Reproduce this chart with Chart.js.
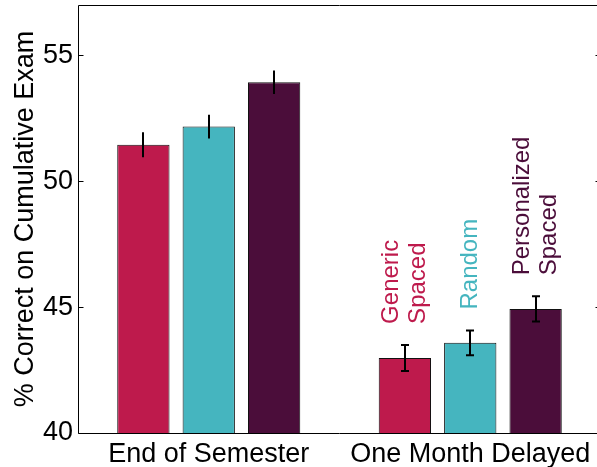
<!DOCTYPE html>
<html>
<head>
<meta charset="utf-8">
<script src="https://cdn.jsdelivr.net/npm/chart.js@4"></script>
<style>
html,body{margin:0;padding:0;overflow:hidden;background:#fff;}
#wrap{width:601px;height:467px;}
</style>
</head>
<body>
<div id="wrap"><canvas id="c" width="601" height="467"></canvas></div>
<script>
const categories = ["End of Semester", "One Month Delayed"];
const seriesNames = ["Generic Spaced", "Random", "Personalized Spaced"];
const genericSpaced = [51.45, 42.98];
const randomOrder = [52.17, 43.58];
const personalizedSpaced = [53.93, 44.93];
const genericErr = [0.50, 0.52];
const randomErr = [0.47, 0.49];
const personalizedErr = [0.47, 0.50];
const yTicks = [40, 45, 50, 55];
const yMin = 40, yMax = 57;
const annotLines = [["Generic", "Spaced"], ["Random"], ["Personalized", "Spaced"]];

const colors = ["#BE1A4C", "#45B5BF", "#4B0D3A"];
const errs = [genericErr, randomErr, personalizedErr];
const FONT = "'Liberation Sans', Arial, Helvetica, sans-serif";

const overlay = {
  id: 'overlay',
  afterDatasetsDraw(chart) {
    const ctx = chart.ctx;
    const y = chart.scales.y;
    const ca = chart.chartArea;
    ctx.save();
    // error bars
    ctx.strokeStyle = '#000';
    ctx.lineWidth = 2;
    chart.data.datasets.forEach((ds, di) => {
      const meta = chart.getDatasetMeta(di);
      meta.data.forEach((bar, i) => {
        const v = ds.data[i], e = errs[di][i];
        const x = Math.round(bar.x);
        const yt = y.getPixelForValue(v + e), yb = y.getPixelForValue(v - e);
        ctx.beginPath();
        ctx.moveTo(x, yt); ctx.lineTo(x, yb);
        const cw = i === 0 ? 0 : 4;
        if (cw > 0) {
          ctx.moveTo(x - cw, yt); ctx.lineTo(x + cw, yt);
          ctx.moveTo(x - cw, yb); ctx.lineTo(x + cw, yb);
        }
        ctx.stroke();
      });
    });
    // rotated series labels above second group
    ctx.font = "24px " + FONT;
    ctx.textAlign = 'left';
    ctx.textBaseline = 'middle';
    chart.data.datasets.forEach((ds, di) => {
      const bar = chart.getDatasetMeta(di).data[1];
      const v = ds.data[1], e = errs[di][1];
      const anchorY = y.getPixelForValue(v + e) - 21;
      const lines = annotLines[di];
      const lh = 26.5;
      ctx.fillStyle = colors[di];
      lines.forEach((t, li) => {
        const off = (li - (lines.length - 1) / 2) * lh;
        ctx.save();
        ctx.translate(bar.x + off, anchorY);
        ctx.rotate(-Math.PI / 2);
        ctx.fillText(t, 0, 0);
        ctx.restore();
      });
    });
    // frame: spines, inward ticks
    ctx.strokeStyle = '#000';
    ctx.lineWidth = 1;
    ctx.beginPath();
    const L = Math.round(ca.left) + 0.5, R = Math.round(ca.right) - 0.5;
    const T = Math.round(ca.top) + 0.5, B = Math.round(ca.bottom) + 0.5;
    ctx.moveTo(L, T); ctx.lineTo(R, T); ctx.lineTo(R, B);
    ctx.moveTo(L, T); ctx.lineTo(L, B); ctx.lineTo(R, B);
    yTicks.forEach(t => {
      const py = Math.round(y.getPixelForValue(t)) + 0.5;
      ctx.moveTo(L, py); ctx.lineTo(L + 5, py);
      ctx.moveTo(R, py); ctx.lineTo(R - 5, py);
    });
    ctx.stroke();
    ctx.restore();
  }
};

new Chart(document.getElementById('c'), {
  type: 'bar',
  data: {
    labels: categories,
    datasets: [genericSpaced, randomOrder, personalizedSpaced].map((d, i) => ({
      label: seriesNames[i],
      data: d,
      backgroundColor: colors[i],
      borderColor: '#111',
      borderWidth: 1,
      borderSkipped: false,
      categoryPercentage: 0.75,
      barPercentage: 0.8
    }))
  },
  options: {
    responsive: false,
    animation: false,
    events: [],
    layout: { padding: { top: 5, right: 0, left: 0, bottom: 0 } },
    plugins: { legend: { display: false }, tooltip: { enabled: false } },
    scales: {
      x: {
        grid: { display: false, drawTicks: false },
        border: { display: false },
        ticks: { color: '#000', font: { size: 27, family: FONT }, padding: 5 },
        afterFit(s) { s.height = 34; s.paddingLeft = 0; s.paddingRight = 0; }
      },
      y: {
        min: yMin, max: yMax,
        grid: { display: false, drawTicks: false },
        border: { display: false },
        afterBuildTicks(s) { s.ticks = yTicks.map(v => ({ value: v })); },
        ticks: { color: '#000', font: { size: 27, family: FONT }, padding: 5 },
        title: { display: true, text: '% Correct on Cumulative Exam', color: '#000',
                 font: { size: 27, family: FONT }, padding: { top: 9, bottom: 0 } },
        afterFit(s) { s.width = 78; s.paddingTop = 0; s.paddingBottom = 0; }
      }
    }
  },
  plugins: [overlay]
});
</script>
</body>
</html>
